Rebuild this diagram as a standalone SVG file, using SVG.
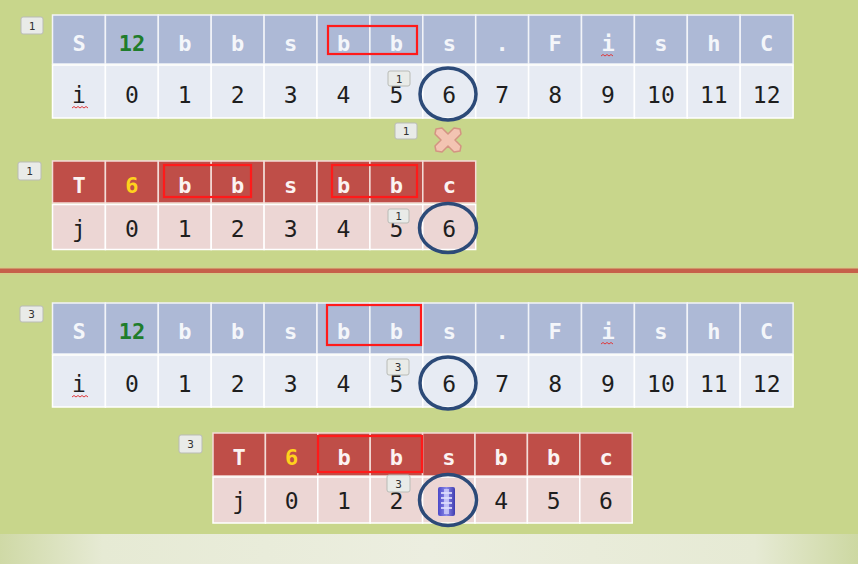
<svg xmlns="http://www.w3.org/2000/svg" width="858" height="564" viewBox="0 0 858 564">
<style>
.sh{fill:#adb9d6;stroke:#f2f4f8;stroke-width:1.5}
.si{fill:#e7ebf3;stroke:#ffffff;stroke-width:1.5}
.th{fill:#bf4e48;stroke:#f3dcd8;stroke-width:1.5}
.ti{fill:#ecd6d4;stroke:#ffffff;stroke-width:1.5}
.hl{font-family:"DejaVu Sans Mono","Liberation Mono",monospace;font-size:22px;font-weight:bold;fill:#f4f6fa;text-anchor:middle}
.hr{font-family:"DejaVu Sans Mono","Liberation Mono",monospace;font-size:22px;font-weight:bold;fill:#fbf3f2;text-anchor:middle}
.dg{font-family:"DejaVu Sans Mono","Liberation Mono",monospace;font-size:23px;fill:#1e1e1e;text-anchor:middle}
.grn{fill:#1f7d2c}
.yel{fill:#ffd21c}
.rb{fill:none;stroke:#ff1a1a;stroke-width:2.2}
.cir{fill:none;stroke:#2c4a78;stroke-width:3.5}
.tag rect{fill:#e9ebe8;stroke:#b9bbb6;stroke-width:1}
.tag text{font-family:"DejaVu Sans Mono",monospace;font-size:11px;fill:#333;text-anchor:middle}
.sq{fill:none;stroke:#e0383a;stroke-width:1}
</style>
<defs>
<linearGradient id="band" x1="0" y1="0" x2="1" y2="0">
<stop offset="0" stop-color="#cfd9a6"/>
<stop offset="0.12" stop-color="#e6ead4"/>
<stop offset="0.5" stop-color="#eceee0"/>
<stop offset="0.88" stop-color="#e6ead4"/>
<stop offset="1" stop-color="#cdd8a2"/>
</linearGradient>
<linearGradient id="cur" x1="0" y1="0" x2="1" y2="0">
<stop offset="0" stop-color="#4a48c8"/>
<stop offset="0.5" stop-color="#8c8ae8"/>
<stop offset="1" stop-color="#3e3cb0"/>
</linearGradient>
</defs>
<rect x="0" y="0" width="858" height="564" fill="#c8d68b"/>
<rect x="0" y="534" width="858" height="30" fill="url(#band)"/>
<rect x="0" y="267" width="858" height="8" fill="#d8c88a" opacity="0.6"/>
<rect x="0" y="268.5" width="858" height="4.5" fill="#c6604a"/>

<!-- Table S (top) -->
<g id="tableS1">
<g>
<rect class="sh" x="52.5" y="15" width="52.9" height="49"/><rect class="sh" x="105.4" y="15" width="52.9" height="49"/><rect class="sh" x="158.3" y="15" width="52.9" height="49"/><rect class="sh" x="211.2" y="15" width="52.9" height="49"/><rect class="sh" x="264.1" y="15" width="52.9" height="49"/><rect class="sh" x="317" y="15" width="52.9" height="49"/><rect class="sh" x="369.9" y="15" width="52.9" height="49"/><rect class="sh" x="422.8" y="15" width="52.9" height="49"/><rect class="sh" x="475.7" y="15" width="52.9" height="49"/><rect class="sh" x="528.6" y="15" width="52.9" height="49"/><rect class="sh" x="581.5" y="15" width="52.9" height="49"/><rect class="sh" x="634.4" y="15" width="52.9" height="49"/><rect class="sh" x="687.3" y="15" width="52.9" height="49"/><rect class="sh" x="740.2" y="15" width="52.9" height="49"/>
<rect class="si" x="52.5" y="65" width="52.9" height="53"/><rect class="si" x="105.4" y="65" width="52.9" height="53"/><rect class="si" x="158.3" y="65" width="52.9" height="53"/><rect class="si" x="211.2" y="65" width="52.9" height="53"/><rect class="si" x="264.1" y="65" width="52.9" height="53"/><rect class="si" x="317" y="65" width="52.9" height="53"/><rect class="si" x="369.9" y="65" width="52.9" height="53"/><rect class="si" x="422.8" y="65" width="52.9" height="53"/><rect class="si" x="475.7" y="65" width="52.9" height="53"/><rect class="si" x="528.6" y="65" width="52.9" height="53"/><rect class="si" x="581.5" y="65" width="52.9" height="53"/><rect class="si" x="634.4" y="65" width="52.9" height="53"/><rect class="si" x="687.3" y="65" width="52.9" height="53"/><rect class="si" x="740.2" y="65" width="52.9" height="53"/>
</g>
<text class="hl" x="79" y="51">S</text><text class="hl grn" x="131.9" y="51">12</text><text class="hl" x="184.8" y="51">b</text><text class="hl" x="237.7" y="51">b</text><text class="hl" x="290.6" y="51">s</text><text class="hl" x="343.5" y="51">b</text><text class="hl" x="396.4" y="51">b</text><text class="hl" x="449.3" y="51">s</text><text class="hl" x="502.2" y="51">.</text><text class="hl" x="555.1" y="51">F</text><text class="hl" x="608" y="51">i</text><text class="hl" x="660.9" y="51">s</text><text class="hl" x="713.8" y="51">h</text><text class="hl" x="766.7" y="51">C</text>
<path class="sq" d="M601 56 l2 -1.5 l2 1.5 l2 -1.5 l2 1.5 l2 -1.5 l2 1.5"/>
<text class="dg" x="79" y="103">i</text><text class="dg" x="131.9" y="103">0</text><text class="dg" x="184.8" y="103">1</text><text class="dg" x="237.7" y="103">2</text><text class="dg" x="290.6" y="103">3</text><text class="dg" x="343.5" y="103">4</text><text class="dg" x="396.4" y="103">5</text><text class="dg" x="449.3" y="103">6</text><text class="dg" x="502.2" y="103">7</text><text class="dg" x="555.1" y="103">8</text><text class="dg" x="608" y="103">9</text><text class="dg" x="660.9" y="103">10</text><text class="dg" x="713.8" y="103">11</text><text class="dg" x="766.7" y="103">12</text>
<path class="sq" d="M72 108 l2 -1.5 l2 1.5 l2 -1.5 l2 1.5 l2 -1.5 l2 1.5 l2 -1.5 l2 1.5"/>
<rect class="rb" x="328" y="26" width="89" height="28"/>
</g>

<!-- Table T (top) -->
<g id="tableT1">
<rect class="th" x="52.5" y="161" width="52.9" height="42"/><rect class="th" x="105.4" y="161" width="52.9" height="42"/><rect class="th" x="158.3" y="161" width="52.9" height="42"/><rect class="th" x="211.2" y="161" width="52.9" height="42"/><rect class="th" x="264.1" y="161" width="52.9" height="42"/><rect class="th" x="317" y="161" width="52.9" height="42"/><rect class="th" x="369.9" y="161" width="52.9" height="42"/><rect class="th" x="422.8" y="161" width="52.9" height="42"/>
<rect class="ti" x="52.5" y="204.5" width="52.9" height="45"/><rect class="ti" x="105.4" y="204.5" width="52.9" height="45"/><rect class="ti" x="158.3" y="204.5" width="52.9" height="45"/><rect class="ti" x="211.2" y="204.5" width="52.9" height="45"/><rect class="ti" x="264.1" y="204.5" width="52.9" height="45"/><rect class="ti" x="317" y="204.5" width="52.9" height="45"/><rect class="ti" x="369.9" y="204.5" width="52.9" height="45"/><rect class="ti" x="422.8" y="204.5" width="52.9" height="45"/>
<text class="hr" x="79" y="193">T</text><text class="hr yel" x="131.9" y="193">6</text><text class="hr" x="184.8" y="193">b</text><text class="hr" x="237.7" y="193">b</text><text class="hr" x="290.6" y="193">s</text><text class="hr" x="343.5" y="193">b</text><text class="hr" x="396.4" y="193">b</text><text class="hr" x="449.3" y="193">c</text>
<text class="dg" x="79" y="237">j</text><text class="dg" x="131.9" y="237">0</text><text class="dg" x="184.8" y="237">1</text><text class="dg" x="237.7" y="237">2</text><text class="dg" x="290.6" y="237">3</text><text class="dg" x="343.5" y="237">4</text><text class="dg" x="396.4" y="237">5</text><text class="dg" x="449.3" y="237">6</text>
<rect class="rb" x="164" y="165" width="87" height="32"/>
<rect class="rb" x="332" y="165" width="85" height="32"/>
</g>

<!-- Table S (bottom) -->
<g id="tableS2">
<rect class="sh" x="52.5" y="303" width="52.9" height="51"/><rect class="sh" x="105.4" y="303" width="52.9" height="51"/><rect class="sh" x="158.3" y="303" width="52.9" height="51"/><rect class="sh" x="211.2" y="303" width="52.9" height="51"/><rect class="sh" x="264.1" y="303" width="52.9" height="51"/><rect class="sh" x="317" y="303" width="52.9" height="51"/><rect class="sh" x="369.9" y="303" width="52.9" height="51"/><rect class="sh" x="422.8" y="303" width="52.9" height="51"/><rect class="sh" x="475.7" y="303" width="52.9" height="51"/><rect class="sh" x="528.6" y="303" width="52.9" height="51"/><rect class="sh" x="581.5" y="303" width="52.9" height="51"/><rect class="sh" x="634.4" y="303" width="52.9" height="51"/><rect class="sh" x="687.3" y="303" width="52.9" height="51"/><rect class="sh" x="740.2" y="303" width="52.9" height="51"/>
<rect class="si" x="52.5" y="355" width="52.9" height="52"/><rect class="si" x="105.4" y="355" width="52.9" height="52"/><rect class="si" x="158.3" y="355" width="52.9" height="52"/><rect class="si" x="211.2" y="355" width="52.9" height="52"/><rect class="si" x="264.1" y="355" width="52.9" height="52"/><rect class="si" x="317" y="355" width="52.9" height="52"/><rect class="si" x="369.9" y="355" width="52.9" height="52"/><rect class="si" x="422.8" y="355" width="52.9" height="52"/><rect class="si" x="475.7" y="355" width="52.9" height="52"/><rect class="si" x="528.6" y="355" width="52.9" height="52"/><rect class="si" x="581.5" y="355" width="52.9" height="52"/><rect class="si" x="634.4" y="355" width="52.9" height="52"/><rect class="si" x="687.3" y="355" width="52.9" height="52"/><rect class="si" x="740.2" y="355" width="52.9" height="52"/>
<text class="hl" x="79" y="339">S</text><text class="hl grn" x="131.9" y="339">12</text><text class="hl" x="184.8" y="339">b</text><text class="hl" x="237.7" y="339">b</text><text class="hl" x="290.6" y="339">s</text><text class="hl" x="343.5" y="339">b</text><text class="hl" x="396.4" y="339">b</text><text class="hl" x="449.3" y="339">s</text><text class="hl" x="502.2" y="339">.</text><text class="hl" x="555.1" y="339">F</text><text class="hl" x="608" y="339">i</text><text class="hl" x="660.9" y="339">s</text><text class="hl" x="713.8" y="339">h</text><text class="hl" x="766.7" y="339">C</text>
<path class="sq" d="M601 344 l2 -1.5 l2 1.5 l2 -1.5 l2 1.5 l2 -1.5 l2 1.5"/>
<text class="dg" x="79" y="392">i</text><text class="dg" x="131.9" y="392">0</text><text class="dg" x="184.8" y="392">1</text><text class="dg" x="237.7" y="392">2</text><text class="dg" x="290.6" y="392">3</text><text class="dg" x="343.5" y="392">4</text><text class="dg" x="396.4" y="392">5</text><text class="dg" x="449.3" y="392">6</text><text class="dg" x="502.2" y="392">7</text><text class="dg" x="555.1" y="392">8</text><text class="dg" x="608" y="392">9</text><text class="dg" x="660.9" y="392">10</text><text class="dg" x="713.8" y="392">11</text><text class="dg" x="766.7" y="392">12</text>
<path class="sq" d="M72 397 l2 -1.5 l2 1.5 l2 -1.5 l2 1.5 l2 -1.5 l2 1.5 l2 -1.5 l2 1.5"/>
<rect class="rb" x="327" y="305" width="94" height="40"/>
</g>

<!-- Table T (bottom) -->
<g id="tableT2">
<rect class="th" x="213" y="433" width="52.4" height="43"/><rect class="th" x="265.4" y="433" width="52.4" height="43"/><rect class="th" x="317.8" y="433" width="52.4" height="43"/><rect class="th" x="370.2" y="433" width="52.4" height="43"/><rect class="th" x="422.6" y="433" width="52.4" height="43"/><rect class="th" x="475" y="433" width="52.4" height="43"/><rect class="th" x="527.4" y="433" width="52.4" height="43"/><rect class="th" x="579.8" y="433" width="52.4" height="43"/>
<rect class="ti" x="213" y="477" width="52.4" height="46"/><rect class="ti" x="265.4" y="477" width="52.4" height="46"/><rect class="ti" x="317.8" y="477" width="52.4" height="46"/><rect class="ti" x="370.2" y="477" width="52.4" height="46"/><rect class="ti" x="422.6" y="477" width="52.4" height="46"/><rect class="ti" x="475" y="477" width="52.4" height="46"/><rect class="ti" x="527.4" y="477" width="52.4" height="46"/><rect class="ti" x="579.8" y="477" width="52.4" height="46"/>
<text class="hr" x="239.2" y="465">T</text><text class="hr yel" x="291.6" y="465">6</text><text class="hr" x="344" y="465">b</text><text class="hr" x="396.4" y="465">b</text><text class="hr" x="448.8" y="465">s</text><text class="hr" x="501.2" y="465">b</text><text class="hr" x="553.6" y="465">b</text><text class="hr" x="606" y="465">c</text>
<text class="dg" x="239.2" y="509">j</text><text class="dg" x="291.6" y="509">0</text><text class="dg" x="344" y="509">1</text><text class="dg" x="396.4" y="509">2</text><text class="dg" x="501.2" y="509">4</text><text class="dg" x="553.6" y="509">5</text><text class="dg" x="606" y="509">6</text>
<rect class="rb" x="318" y="436" width="104" height="36"/>
<g id="cursor">
<rect x="438" y="487" width="17" height="29" rx="2" fill="url(#cur)"/>
<path d="M441 493 h11 M441 498 h11 M441 503 h11 M441 508 h11" stroke="#f0f0ff" stroke-width="1.6"/>
<rect x="444" y="489" width="5" height="25" fill="#dcdcff" opacity="0.7"/>
</g>
</g>

<!-- Circles -->
<g id="circles">
<ellipse class="cir" cx="448" cy="94" rx="28" ry="26"/>
<ellipse class="cir" cx="448" cy="228" rx="28.5" ry="24.5"/>
<ellipse class="cir" cx="448" cy="383" rx="28" ry="26"/>
<ellipse class="cir" cx="448" cy="500" rx="28.5" ry="25.5"/>
</g>

<!-- Cross mark -->
<g id="cross">
<path d="M436 129 L442 128 L448 134 L454 128 L460 129 L461 134 L455 140 L461 146 L460 151 L454 152 L448 146 L442 152 L436 151 L435 146 L441 140 L435 134 Z" fill="#f3c4b2" stroke="#d39482" stroke-width="1.5" stroke-linejoin="round"/>
</g>

<!-- Animation tags -->
<g id="tags" class="tag">
<g><rect x="21" y="17" width="22" height="17" rx="2"/><text x="32" y="29.5">1</text></g>
<g><rect x="388" y="71" width="22" height="15" rx="2"/><text x="399" y="82.5">1</text></g>
<g><rect x="395" y="123" width="22" height="16" rx="2"/><text x="406" y="135">1</text></g>
<g><rect x="18" y="162" width="23" height="18" rx="2"/><text x="29.5" y="175">1</text></g>
<g><rect x="388" y="209" width="21" height="14" rx="2"/><text x="398.5" y="220">1</text></g>
<g><rect x="20" y="306" width="23" height="16" rx="2"/><text x="31.5" y="318">3</text></g>
<g><rect x="387" y="359" width="22" height="16" rx="2"/><text x="398" y="371">3</text></g>
<g><rect x="179" y="435" width="23" height="18" rx="2"/><text x="190.5" y="448">3</text></g>
<g><rect x="387" y="475" width="23" height="17" rx="2"/><text x="398.5" y="487.5">3</text></g>
</g>
</svg>
